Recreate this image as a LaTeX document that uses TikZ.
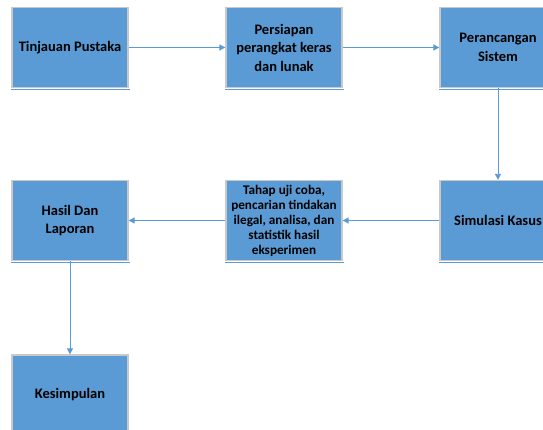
\documentclass[tikz,border=0pt]{standalone}
\usepackage{fontspec}
\setmainfont{Carlito}
\usetikzlibrary{arrows.meta,positioning}

\definecolor{boxblue}{HTML}{5B9BD5}
\definecolor{boxgray}{HTML}{C9C9C9}

\begin{document}
\begin{tikzpicture}[
    x=1pt, y=-1pt,
    stepbox/.style={rectangle, draw=boxgray, fill=boxblue, line width=1.3pt, minimum width=116pt, minimum height=80pt, align=center, inner sep=2pt, font=\bfseries\fontsize{14.5}{18.5}\selectfont},
    smalltext/.style={font=\bfseries\fontsize{13.2}{15}\selectfont},
    arrow/.style={-{Triangle[width=6pt,length=6pt]}, draw=boxblue, line width=0.9pt}
]
\useasboundingbox (0,0) rectangle (543,430);

% Top row
\node[stepbox] (tp) at (70, 47.5) {Tinjauan Pustaka};
\node[stepbox] (pp) at (284, 47.5) {Persiapan\\perangkat keras\\dan lunak};
\node[stepbox] (ps) at (498, 47.5) {Perancangan\\Sistem};

% Middle row
\node[stepbox] (sk) at (498, 220.5) {Simulasi Kasus};
\node[stepbox, smalltext] (tu) at (284, 220.5) {Tahap uji coba,\\pencarian tindakan\\ilegal, analisa, dan\\statistik hasil\\eksperimen};
\node[stepbox] (hl) at (70, 220.5) {Hasil Dan\\Laporan};

% Bottom
\node[stepbox] (ks) at (70, 395) {Kesimpulan};

% Bottom edges
\foreach \n in {tp,pp,ps,sk,tu,hl,ks}
    \draw[boxblue, line width=1.6pt] ([yshift=-1.4pt]\n.south west) -- ([yshift=-1.4pt,xshift=1pt]\n.south east);

% Arrows
\draw[arrow] (tp) -- (pp);
\draw[arrow] (pp) -- (ps);
\draw[arrow] (ps) -- (sk);
\draw[arrow] (sk) -- (tu);
\draw[arrow] (tu) -- (hl);
\draw[arrow] (hl) -- (ks);

\end{tikzpicture}
\end{document}
